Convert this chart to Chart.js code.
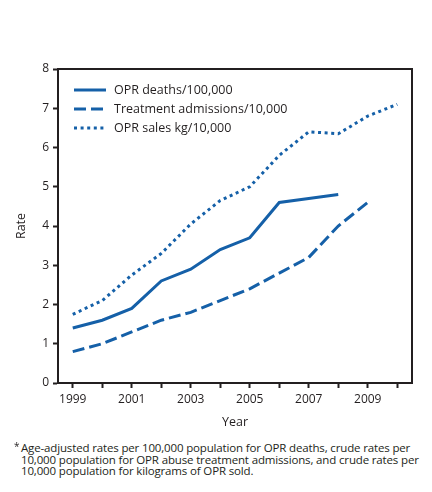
<!DOCTYPE html>
<html>
<head>
<meta charset="utf-8">
<script src="https://cdn.jsdelivr.net/npm/chart.js@4.4.1/dist/chart.umd.min.js"></script>
<style>
  html, body { margin: 0; padding: 0; background: #fff; }
  #wrap { position: relative; width: 432px; height: 492px; }
  #c { position: absolute; left: 0; top: 0; }
  #note {
    position: absolute; left: 21px; top: 442px; width: 410px;
    font-family: 'Open Sans', sans-serif; font-size: 11.5px; line-height: 11.6px;
    color: #231f20; letter-spacing: -0.15px; white-space: nowrap;
  }
  #note .ast { position: absolute; left: -7px; top: -1px; font-size: 10px; }
</style>
</head>
<body>
<div id="wrap">
  <canvas id="c" width="432" height="440"></canvas>
  <div id="note"><span class="ast">*</span>Age-adjusted rates per 100,000 population for OPR deaths, crude rates per<br>10,000 population for OPR abuse treatment admissions, and crude rates per<br>10,000 population for kilograms of OPR sold.</div>
</div>
<script>
// ── data ─────────────────────────────────────────────
const years      = ['1999', '2000', '2001', '2002', '2003', '2004', '2005', '2006', '2007', '2008', '2009', '2010']
const deaths     = [1.4, 1.6, 1.9, 2.6, 2.9, 3.4, 3.7, 4.6, 4.7, 4.8, null, null]
const admissions = [0.8, 1.0, 1.3, 1.6, 1.8, 2.1, 2.4, 2.8, 3.2, 4.0, 4.6, null]
const sales      = [1.75, 2.1, 2.75, 3.3, 4.05, 4.65, 5.0, 5.8, 6.4, 6.35, 6.8, 7.1]
const seriesNames = ['OPR deaths/100,000', 'Treatment admissions/10,000', 'OPR sales kg/10,000']

const BLUE = '#1560a8'
const INK  = '#231f20'
const FONT = "'Open Sans', sans-serif"

// box + inset legend
const boxLegend = {
  id: 'boxLegend',
  afterDraw(chart) {
    const { ctx, chartArea: a } = chart
    ctx.save()
    ctx.strokeStyle = INK
    ctx.lineWidth = 2
    ctx.beginPath()
    ctx.moveTo(a.left, a.top); ctx.lineTo(a.right, a.top); ctx.lineTo(a.right, a.bottom)
    ctx.stroke()

    ctx.font = `12.5px ${FONT}`
    ctx.textBaseline = 'middle'
    chart.data.datasets.forEach((ds, i) => {
      const y = a.top + 21 + i * 19
      ctx.strokeStyle = ds.borderColor
      ctx.lineWidth = ds.borderWidth
      ctx.setLineDash(ds.borderDash || [])
      ctx.beginPath()
      ctx.moveTo(a.left + 16, y); ctx.lineTo(a.left + 48, y)
      ctx.stroke()
      ctx.setLineDash([])
      ctx.fillStyle = INK
      ctx.fillText(ds.label, a.left + 56, y)
    })
    ctx.restore()
  },
}

new Chart(document.getElementById('c'), {
  type: 'line',
  data: {
    labels: years,
    datasets: [
      { label: seriesNames[0], data: deaths,     borderColor: BLUE, borderWidth: 3, borderDash: [] },
      { label: seriesNames[1], data: admissions, borderColor: BLUE, borderWidth: 3, borderDash: [12, 5] },
      { label: seriesNames[2], data: sales,      borderColor: BLUE, borderWidth: 3, borderDash: [3, 3.6] },
    ],
  },
  options: {
    responsive: false, animation: false,
    layout: { padding: { left: 14, right: 20, top: 69, bottom: 10 } },
    elements: { point: { radius: 0 }, line: { tension: 0, borderCapStyle: 'butt', borderJoinStyle: 'miter' } },
    scales: {
      x: {
        type: 'category', offset: true,
        grid: { display: true, drawOnChartArea: false, drawTicks: true, tickLength: 5, tickWidth: 2, color: INK, offset: false },
        border: { display: true, color: INK, width: 2 },
        ticks: { color: INK, font: { size: 12, family: FONT }, padding: 4, autoSkip: false, maxRotation: 0,
          callback: (v, i) => (i % 2 === 0 ? years[i] : '') },
        title: { display: true, text: 'Year', color: INK, font: { size: 12.5, family: FONT }, padding: 0 },
        afterFit: s => { s.height = 47 },
      },
      y: {
        min: 0, max: 8,
        grid: { display: true, drawOnChartArea: false, drawTicks: true, tickLength: 5, tickWidth: 2, color: INK },
        border: { display: true, color: INK, width: 2 },
        ticks: { stepSize: 1, color: INK, font: { size: 12, family: FONT }, padding: 4 },
        title: { display: true, text: 'Rate', color: INK, font: { size: 12.5, family: FONT }, padding: 0 },
        afterFit: s => { s.width = 44 },
      },
    },
    plugins: { legend: { display: false }, tooltip: { enabled: false } },
  },
  plugins: [boxLegend],
})
</script>
</body>
</html>
